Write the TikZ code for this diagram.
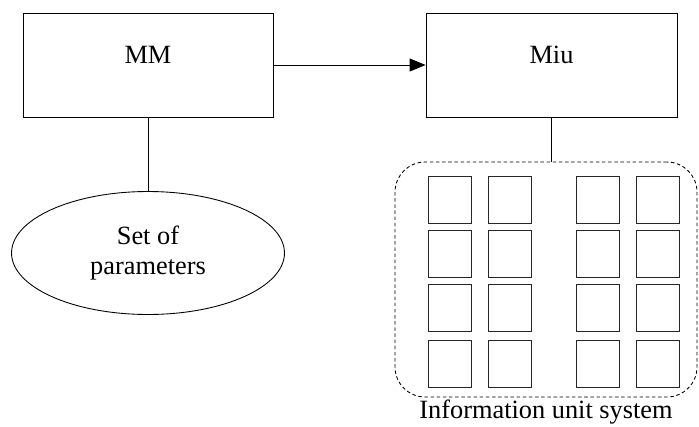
\documentclass[tikz,border=0pt]{standalone}
\usepackage{fontspec}
\setmainfont{Liberation Serif}
\usepackage{tikz}
\usetikzlibrary{shapes.geometric,arrows.meta}

\begin{document}
\begin{tikzpicture}[x=0.02cm,y=-0.02cm,line width=0.5pt,font=\fontsize{15}{18}\selectfont]
    \tikzstyle{block}=[rectangle,draw,minimum width=5cm,minimum height=2.08cm,inner sep=0pt]
    \tikzstyle{param}=[ellipse,draw,minimum width=5.46cm,minimum height=2.46cm,align=center,inner sep=0pt]
    \tikzstyle{unit}=[rectangle,draw=black!85,minimum width=0.86cm,minimum height=0.94cm,inner sep=0pt]
    \tikzstyle{group}=[rectangle,draw,dash pattern=on 2pt off 1.5pt,rounded corners=0.6cm,minimum width=6.04cm,minimum height=4.7cm]

    \useasboundingbox (0,0) rectangle (699,426);

    % Main blocks
    \node[block,label={[yshift=0.2cm]center:MM}] (MM) at (148,65) {};
    \node[block,minimum width=5.02cm,label={[yshift=0.2cm]center:Miu}] (Miu) at (551.5,65) {};

    % Parameter set
    \node[param] (P) at (148,253) {Set of\\[-1pt]parameters};

    % Information units
    \node[group,label={[inner sep=1pt]below:Information unit system}] (S) at (546,279.5) {};
    \foreach \name / \x in {1/449.5,2/509.5,3/597.5,4/657.5}
        \foreach \row / \y in {1/199.5,2/253.5,3/307.5,4/363.5}
            \node[unit] (U-\name-\row) at (\x,\y) {};

    % Connections
    \draw[-{Triangle[length=0.32cm,width=0.26cm]}] (MM) -- (Miu);
    \draw (MM.south) -- (P.north);
    \draw (Miu.south) -- (Miu.south |- S.north);

\end{tikzpicture}
\end{document}
